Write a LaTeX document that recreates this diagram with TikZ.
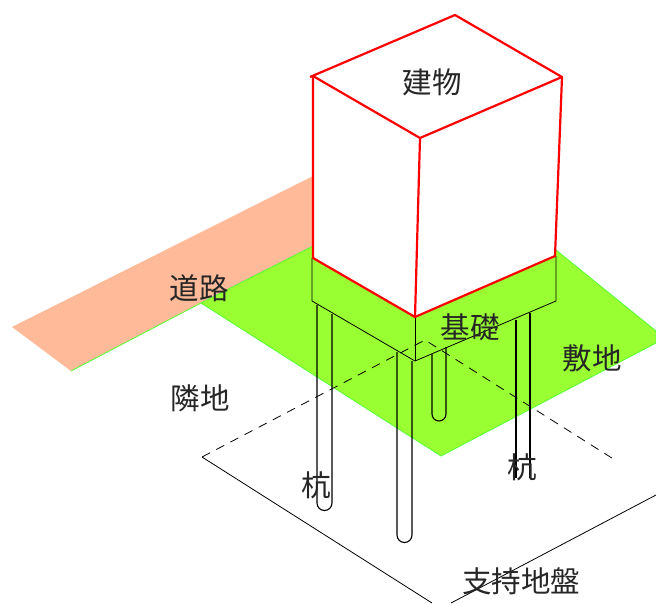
\documentclass[tikz,border=0pt]{standalone}
\usepackage{fontspec}
\newfontfamily\cjk{Noto Sans CJK JP}
\definecolor{roadcol}{RGB}{255,187,153}
\definecolor{sitecol}{RGB}{153,255,51}
\definecolor{siteedge}{RGB}{85,255,51}
\tikzset{
    label/.style={font=\cjk\fontsize{29.5}{30}\selectfont, inner sep=0pt, text=black!85},
    thinline/.style={black, line width=0.8pt},
    pileline/.style={black, line width=1.1pt},
    redline/.style={red, line width=2.2pt}
}
\begin{document}
\begin{tikzpicture}[x=1pt, y=-1pt]
    \useasboundingbox (0,0) rectangle (656,603);
    % ground
    \fill[roadcol] (12,327) -- (313,176) -- (313,246) -- (201,303) -- (71,371) -- cycle;
    \filldraw[fill=sitecol, draw=siteedge, line width=0.8pt] (71,371) -- (201,303) -- (313,246) -- (556,250) -- (656,331) -- (656,343) -- (441,456) -- (201,303);
    % bearing layer
    \draw[thinline, dash pattern=on 9pt off 7pt] (202,457) -- (425,340) -- (615,460);
    \draw[thinline] (202,457) -- (432,603);
    \draw[thinline] (451,603) -- (656,495);
    % piles
    \draw[pileline] (317,305) -- (317,503) arc[start angle=180, end angle=0, radius=7.5] -- (332,314);
    \draw[pileline] (397,352) -- (397,535) arc[start angle=180, end angle=0, radius=7.5] -- (412,361);
    \draw[pileline] (432,354) -- (432,414) arc[start angle=180, end angle=0, radius=7] -- (446,347);
    \draw[pileline] (516,320) -- (516,478);
    \draw[pileline] (530,313) -- (530,478);
    % footing
    \draw[thinline] (312,258) -- (312,301) -- (415,361) -- (556,301) -- (556,256);
    \draw[thinline] (415,317) -- (415,361);
    % building
    \fill[white] (313,76) -- (455,15) -- (562,77) -- (555,256) -- (415,317) -- (313,258) -- cycle;
    \draw[redline, line join=round] (310,77) -- (455,15) -- (562,77) -- (420,138) -- (313,76);
    \draw[redline] (313,76) -- (313,258) -- (415,317) -- (555,256) -- (562,77);
    \draw[redline] (420,138) -- (415,317);
    % labels
    \node[label] (building) at (432,82) {建物};
    \node[label] (road) at (199,288) {道路};
    \node[label] (neighbor) at (200,398) {隣地};
    \node[label] (footing) at (470,327) {基礎};
    \node[label] (site) at (592,358) {敷地};
    \node[label] (pileA) at (316,485) {杭};
    \node[label] (pileB) at (522,467) {杭};
    \node[label] (layer) at (521,581) {支持地盤};
\end{tikzpicture}
\end{document}
